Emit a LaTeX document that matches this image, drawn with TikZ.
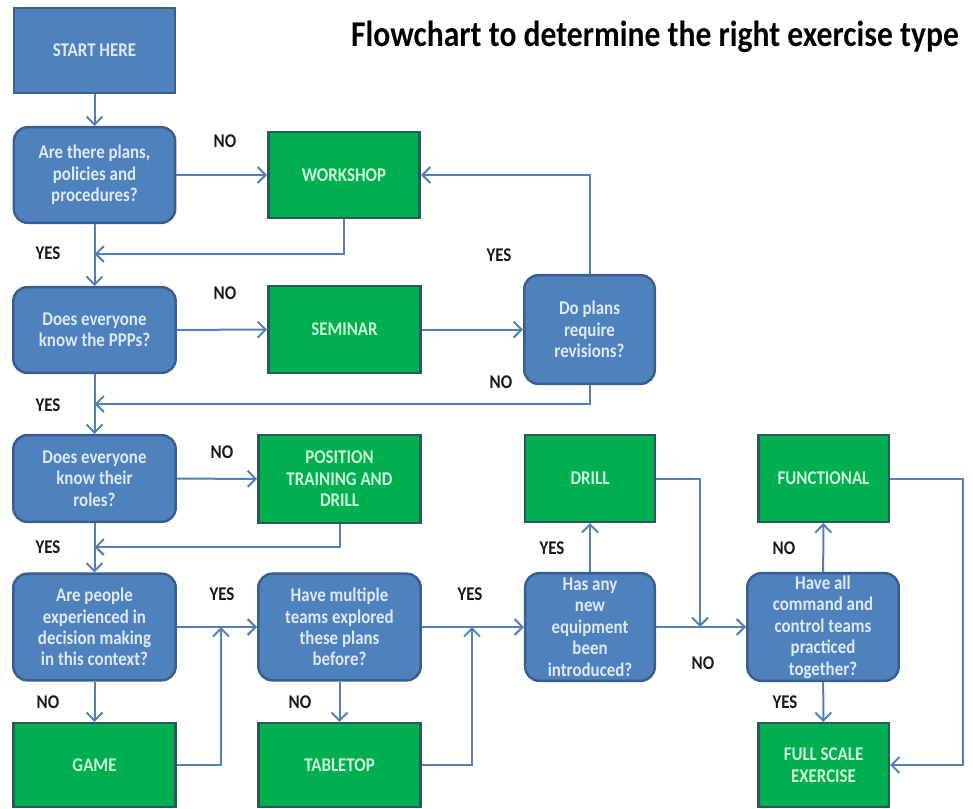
\documentclass[tikz,border=0pt]{standalone}
\usepackage{fontspec}
\setmainfont{Carlito}[FakeStretch=0.87]
\usetikzlibrary{arrows.meta}

\definecolor{qfill}{HTML}{4F81BD}
\definecolor{qborder}{HTML}{3A5F8C}
\definecolor{qtext}{HTML}{DCE8F6}
\definecolor{gfill}{HTML}{00B050}
\definecolor{gborder}{HTML}{2B5A5E}
\definecolor{gtext}{HTML}{CDF5D6}
\definecolor{link}{HTML}{5380B5}

\tikzset{
  box/.style={line width=2.5bp, align=center, inner sep=0pt,
    font=\bfseries\fontsize{19.5}{21.5}\selectfont},
  question/.style={box, draw=qborder, fill=qfill, text=qtext, rounded corners=14bp},
  startbox/.style={box, draw=qborder, fill=qfill, text=qtext},
  outcome/.style={box, draw=gborder, fill=gfill, text=gtext},
  answer/.style={font=\bfseries\fontsize{19.5}{21.5}\selectfont, text=black!90},
  arr/.style={draw=link, line width=2bp, -{Straight Barb[length=8bp,width=16bp,line width=2bp]}},
  wh/.style={minimum width=#1},
  ht/.style={minimum height=#1},
}

\begin{document}
\begin{tikzpicture}[x=1bp, y=-1bp]
\useasboundingbox (0,0) rectangle (973,809);

% title
\node[font=\bfseries\fontsize{36.5}{40}\selectfont, text=black] (title) at (655,37)
  {Flowchart to determine the right exercise type};

% left column
\node[startbox, wh=162, ht=85] (start) at (94.5,50.5) {START HERE};
\node[question, wh=162, ht=96] (q1) at (94.5,175) {Are there plans,\\policies and\\procedures?};
\node[question, wh=163, ht=86] (q2) at (94.5,330) {Does everyone\\know the PPPs?};
\node[question, wh=163, ht=87] (q3) at (94.5,478.5) {Does everyone\\know their\\roles?};
\node[question, wh=163, ht=107] (q4) at (94.5,627) {Are people\\experienced in\\decision making\\in this context?};
\node[outcome, wh=163, ht=84] (game) at (94.5,765) {GAME};

% second column
\node[outcome, wh=152, ht=86] (workshop) at (344,175) {WORKSHOP};
\node[outcome, wh=153, ht=87] (seminar) at (344.5,329.5) {SEMINAR};
\node[outcome, wh=163, ht=88] (position) at (339.5,479) {POSITION\\TRAINING AND\\DRILL};
\node[question, wh=163, ht=107] (q5) at (339.5,627) {Have multiple\\teams explored\\these plans\\before?};
\node[outcome, wh=163, ht=84] (tabletop) at (339.5,765) {TABLETOP};

% third column
\node[question, wh=131, ht=109] (revise) at (589.5,329.5) {Do plans\\require\\revisions?};
\node[outcome, wh=130, ht=87] (drill) at (590,478.5) {DRILL};
\node[question, wh=130, ht=108] (q6) at (590,627) {Has any\\new\\equipment\\been\\introduced?};

% fourth column
\node[outcome, wh=131, ht=87] (functional) at (823.5,478.5) {FUNCTIONAL};
\node[question, wh=152, ht=108] (q7) at (823,627) {Have all\\command and\\control teams\\practiced\\together?};
\node[outcome, wh=131, ht=84] (fullscale) at (823.5,765) {FULL SCALE\\EXERCISE};

% junction points on the main lines
\coordinate (m1) at (94.5,254);
\coordinate (m2) at (94.5,404);
\coordinate (m3) at (94.5,547);
\coordinate (j1) at (221,627);
\coordinate (j2) at (472,627);
\coordinate (j3) at (700,627);
\coordinate (c4) at (963,627);

% main flow
\draw[arr] (start) -- (q1);
\draw[arr] (q1) -- (workshop);
\draw[arr] (q1) -- (q2);
\draw[arr] (workshop.south) |- (m1);
\draw[arr] (q2) -- (seminar);
\draw[arr] (seminar) -- (revise);
\draw[arr] (revise.north) |- (workshop.east);
\draw[arr] (revise.south) |- (m2);
\draw[arr] (q2) -- (q3);
\draw[arr] (q3) -- (position);
\draw[arr] (position.south) |- (m3);
\draw[arr] (q3) -- (q4);
\draw[arr] (q4) -- (q5);
\draw[arr] (q4) -- (game);
\draw[arr] (game.east) -| (j1);
\draw[arr] (q5) -- (q6);
\draw[arr] (q5) -- (tabletop);
\draw[arr] (tabletop.east) -| (j2);
\draw[arr] (q6) -- (drill);
\draw[arr] (drill.east) -| (j3);
\draw[arr] (q6) -- (q7);
\draw[arr] (q7) -- (functional);
\draw[arr] (q7) -- (fullscale);
\draw[arr] (functional.east) -- (functional.east -| c4) -- (fullscale.east -| c4) -- (fullscale.east);

% answers
\node[answer] (a1) at (225,141) {NO};
\node[answer] (a2) at (48,253) {YES};
\node[answer] (a3) at (225,293) {NO};
\node[answer] (a4) at (499,255) {YES};
\node[answer] (a5) at (501,382) {NO};
\node[answer] (a6) at (48,405) {YES};
\node[answer] (a7) at (222,452) {NO};
\node[answer] (a8) at (48,547) {YES};
\node[answer] (a9) at (222,594) {YES};
\node[answer] (a10) at (470,594) {YES};
\node[answer] (a11) at (48,702) {NO};
\node[answer] (a12) at (300,702) {NO};
\node[answer] (a13) at (552,548) {YES};
\node[answer] (a14) at (703,663) {NO};
\node[answer] (a15) at (784,548) {NO};
\node[answer] (a16) at (785,702) {YES};
\end{tikzpicture}
\end{document}
